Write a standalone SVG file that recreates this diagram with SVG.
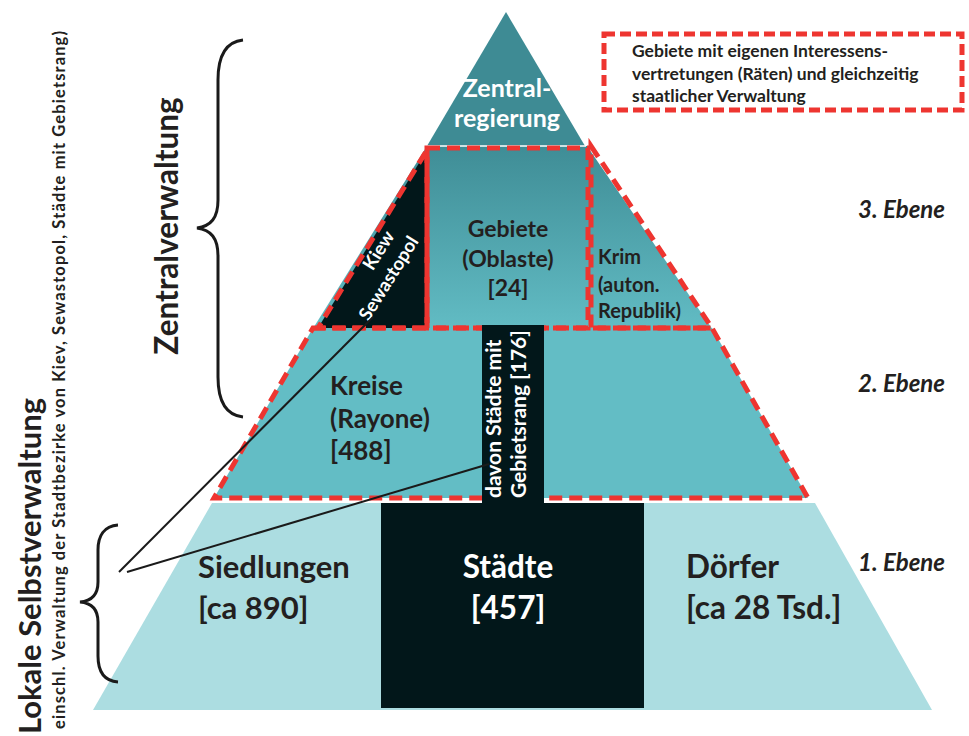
<svg xmlns="http://www.w3.org/2000/svg" width="969" height="736" viewBox="0 0 969 736">
<style>
.t{font-family:Lato,"Liberation Sans",sans-serif;font-weight:bold}
.dk{fill:#231f20}
.wh{fill:#ffffff}
.red{fill:none;stroke:#ee3530;stroke-width:5;stroke-dasharray:13 7}
.ln{stroke:#1a1a1a;stroke-width:2;fill:none}
.br{stroke:#1a1a1a;stroke-width:3;fill:none}
</style>
<defs>
<linearGradient id="g3" x1="0" y1="146" x2="0" y2="330" gradientUnits="userSpaceOnUse">
<stop offset="0" stop-color="#3f8d96"/>
<stop offset="1" stop-color="#62bcc4"/>
</linearGradient>
</defs>
<rect width="969" height="736" fill="#ffffff"/>

<g id="level1">
<polygon points="212,503 815,503 932,710 93,710" fill="#acdde1"/>
</g>
<g id="level2">
<polygon points="313,328 712,328 808,498 214,498" fill="#63bdc5"/>
<line x1="214" y1="500" x2="808" y2="500" stroke="#ffffff" stroke-width="3"/>
</g>
<g id="level3">
<polygon points="427,146 587,146 713,330 312,330" fill="url(#g3)"/>
</g>
<g id="top">
<polygon points="506,12 585,146 427,146" fill="#3e8b94"/>
<line x1="427" y1="146" x2="586" y2="146" stroke="#ffffff" stroke-width="1.5"/>
<text class="t wh" font-size="25" text-anchor="middle"><tspan x="507" y="97">Zentral-</tspan><tspan x="507" y="127">regierung</tspan></text>
</g>
<g id="kiev">
<polygon points="427,150 427,328 318,328" fill="#02171a"/>
<polygon class="red" points="427,150 427,328 318,328"/>
<text class="t wh" font-size="18.5" text-anchor="middle" transform="translate(378,250) rotate(-58)" y="7">Kiew</text>
<text class="t wh" font-size="18.5" text-anchor="middle" transform="translate(388,278) rotate(-58)" y="7">Sewastopol</text>
</g>
<g id="gebiete">
<polygon class="red" points="427,148 588,148 588,328 427,328"/>
<text class="t dk" font-size="23" text-anchor="middle"><tspan x="508" y="237">Gebiete</tspan><tspan x="508" y="267">(Oblaste)</tspan><tspan x="508" y="296">[24]</tspan></text>
</g>
<g id="krim">
<polygon class="red" points="591,146 712,328 591,328"/>
<text class="t dk" font-size="20"><tspan x="598" y="264">Krim</tspan><tspan x="598" y="292">(auton.</tspan><tspan x="598" y="318">Republik)</tspan></text>
</g>
<g id="kreise">
<polygon class="red" points="313,328 712,328 808,498 214,498"/>
<text class="t dk" font-size="26"><tspan x="330" y="395">Kreise</tspan><tspan x="330" y="428">(Rayone)</tspan><tspan x="330" y="460">[488]</tspan></text>
</g>
<g id="staedte">
<rect x="381" y="503" width="263" height="205" fill="#02171a"/>
<text class="t wh" font-size="31.5" text-anchor="middle"><tspan x="508" y="578">Städte</tspan><tspan x="508" y="619">[457]</tspan></text>
</g>
<g id="gebietsrang">
<rect x="482" y="325" width="62" height="178" fill="#02171a"/>
<text class="t wh" font-size="21" transform="translate(501,498) rotate(-90)">davon Städte mit</text>
<text class="t wh" font-size="21" transform="translate(526,498) rotate(-90)">Gebietsrang [176]</text>
</g>
<g id="siedlungen">
<text class="t dk" font-size="31"><tspan x="198" y="578">Siedlungen</tspan><tspan x="198" y="619">[ca 890]</tspan></text>
</g>
<g id="doerfer">
<text class="t dk" font-size="31.5"><tspan x="686" y="578">Dörfer</tspan><tspan x="686" y="619">[ca 28 Tsd.]</tspan></text>
</g>

<g id="connectors">
<line class="ln" x1="119" y1="572" x2="373" y2="317"/>
<line class="ln" x1="127" y1="572" x2="489" y2="464"/>
<path class="br" d="M243,40 C224,42 218,58 218,80 L218,200 C218,218 211,226 197,228 C211,230 218,238 218,256 L218,377 C218,400 225,415 243,417"/>
<path class="br" d="M118,525 C104,526 98,536 98,550 L98,582 C98,594 92,601 80,602 C92,603 98,610 98,622 L98,656 C98,672 104,681 118,682"/>
</g>

<g id="leftlabels">
<text class="t dk" font-size="31.5" text-anchor="middle" transform="translate(178,226) rotate(-90)">Zentralverwaltung</text>
<text class="t dk" font-size="31" text-anchor="middle" transform="translate(41,566) rotate(-90)">Lokale Selbstverwaltung</text>
<text class="t dk" font-size="16.5" font-weight="normal" text-anchor="middle" textLength="698" lengthAdjust="spacing" transform="translate(65,380) rotate(-90)">einschl. Verwaltung der Stadtbezirke von Kiev, Sewastopol, Städte mit Gebietsrang)</text>
</g>

<g id="levels">
<text class="t dk" font-size="24" font-style="italic" x="858" y="218">3. Ebene</text>
<text class="t dk" font-size="24" font-style="italic" x="858" y="392">2. Ebene</text>
<text class="t dk" font-size="24" font-style="italic" x="858" y="571">1. Ebene</text>
</g>

<g id="legend">
<rect x="604" y="34" width="358" height="76" fill="#ffffff" stroke="#ee3530" stroke-width="5" stroke-dasharray="11 5"/>
<text class="t dk" font-size="17.5"><tspan x="632" y="57">Gebiete mit eigenen Interessens-</tspan><tspan x="632" y="80">vertretungen (Räten) und gleichzeitig</tspan><tspan x="632" y="102">staatlicher Verwaltung</tspan></text>
</g>
</svg>
